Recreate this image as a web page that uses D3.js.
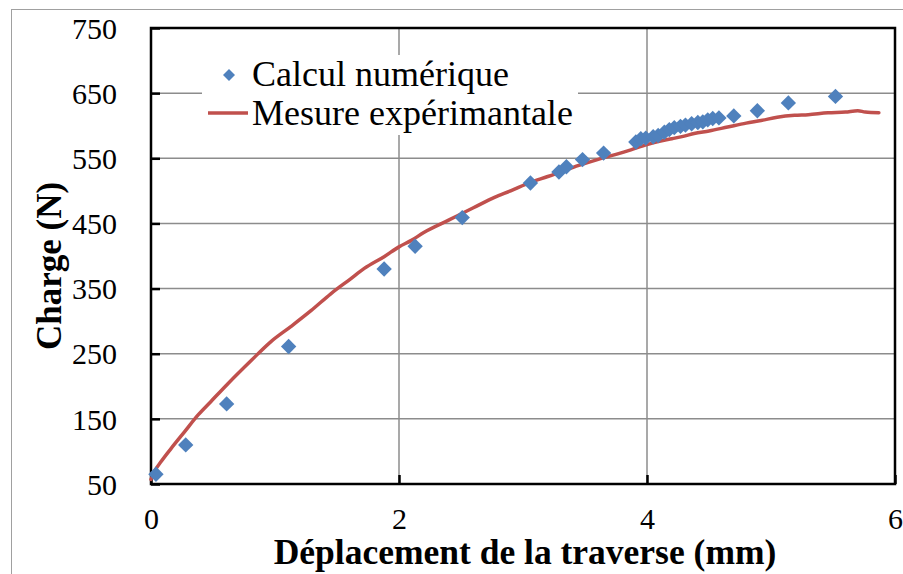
<!DOCTYPE html>
<html>
<head>
<meta charset="utf-8">
<script src="https://cdn.jsdelivr.net/npm/d3@7"></script>
<style>
  html, body { margin: 0; padding: 0; background: #fff; }
  svg { display: block; }
  text { font-family: "Liberation Serif", "Times New Roman", serif; fill: #000; }
</style>
</head>
<body>
<svg id="chart" width="903" height="574"></svg>
<script>
// Numerical results (displacement in mm, load in N)
const calcX = [0.04, 0.28, 0.61, 1.11, 1.88, 2.13, 2.51, 3.06, 3.29, 3.35, 3.48, 3.65,
  3.91, 3.95, 3.99, 4.05, 4.09, 4.14, 4.18, 4.22, 4.27, 4.31, 4.36, 4.41, 4.45, 4.49,
  4.53, 4.58, 4.70, 4.89, 5.14, 5.52];
const calcY = [65, 110, 173, 261, 380, 415, 459, 512, 529, 537, 548, 558,
  575, 580, 581, 583, 585, 590, 594, 597, 599, 601, 603, 605, 606, 609,
  611, 612, 615, 623, 635, 645];

// Experimental measurement
const mesX = [0.00, 0.03, 0.08, 0.16, 0.27, 0.38, 0.48, 0.62, 0.81, 0.97, 1.13, 1.29,
  1.45, 1.61, 1.72, 1.88, 2.00, 2.10, 2.20, 2.40, 2.60, 2.77, 2.90, 3.06, 3.20, 3.33,
  3.45, 3.60, 3.75, 3.87, 4.00, 4.10, 4.20, 4.30, 4.38, 4.50, 4.65, 4.80, 4.92, 5.05,
  5.19, 5.30, 5.46, 5.60, 5.70, 5.76, 5.87];
const mesY = [57, 70, 84, 104, 130, 156, 176, 204, 240, 269, 292, 316,
  342, 365, 381, 399, 414, 424, 436, 455, 474, 490, 500, 513, 522, 531,
  539, 548, 556, 563, 571, 576, 580, 584, 588, 592, 598, 604, 608, 613,
  616, 617, 620, 621, 623, 621, 620];

const xTicks = [0, 2, 4, 6];
const yTicks = [50, 150, 250, 350, 450, 550, 650, 750];

const seriesNames = ["Calcul numérique", "Mesure expérimantale"];
const xTitle = "Déplacement de la traverse (mm)";
const yTitle = "Charge (N)";

const blue = "#4F81BD";
const red = "#C0504D";
const serif = '"Liberation Serif", "Times New Roman", serif';

const svg = d3.select("#chart");

// chart area frame
svg.append("rect")
  .attr("x", 11.5).attr("y", 9.5)
  .attr("width", 903).attr("height", 574)
  .attr("fill", "#fff").attr("stroke", "#a0a0a0").attr("stroke-width", 1);

const plot = { left: 151, right: 895, top: 28, bottom: 484 };

const x = d3.scaleLinear().domain([0, 6]).range([plot.left, plot.right]);
const y = d3.scaleLinear().domain([50, 750]).range([plot.bottom, plot.top]);

// grid lines
svg.append("g")
  .selectAll("line")
  .data(yTicks.slice(1, -1))
  .join("line")
  .attr("x1", plot.left).attr("x2", plot.right)
  .attr("y1", d => y(d)).attr("y2", d => y(d))
  .attr("stroke", "#8c8c8c").attr("stroke-width", 1.5);

svg.append("g")
  .selectAll("line")
  .data(xTicks.slice(1, -1))
  .join("line")
  .attr("y1", plot.top).attr("y2", plot.bottom)
  .attr("x1", d => x(d)).attr("x2", d => x(d))
  .attr("stroke", "#8c8c8c").attr("stroke-width", 1.5);

// axes with inward ticks
const yAxis = d3.axisLeft(y).tickValues(yTicks).tickSize(-9).tickPadding(34).tickFormat(d3.format("d"));
const xAxis = d3.axisBottom(x).tickValues(xTicks).tickSize(-9).tickPadding(24).tickFormat(d3.format("d"));

const gy = svg.append("g").attr("transform", `translate(${plot.left},0)`).call(yAxis);
const gx = svg.append("g").attr("transform", `translate(0,${plot.bottom})`).call(xAxis);

[gy, gx].forEach(g => {
  g.attr("font-family", serif).attr("font-size", 30);
  g.select(".domain").remove();
  g.selectAll(".tick line").attr("stroke", "#000").attr("stroke-width", 2.5);
  g.selectAll(".tick text")
    .style("font-family", serif)
    .style("font-size", "30px").attr("fill", "#000");
});
gy.selectAll(".tick text").attr("dy", "0.34em");

// plot frame
svg.append("rect")
  .attr("x", plot.left).attr("y", plot.top)
  .attr("width", plot.right - plot.left).attr("height", plot.bottom - plot.top)
  .attr("fill", "none").attr("stroke", "#000").attr("stroke-width", 2.5);

// experimental curve
const line = d3.line().x(d => x(d[0])).y(d => y(d[1])).curve(d3.curveMonotoneX);
svg.append("path")
  .datum(d3.zip(mesX, mesY))
  .attr("d", line)
  .attr("fill", "none").attr("stroke", red).attr("stroke-width", 3.5)
  .attr("stroke-linejoin", "round").attr("stroke-linecap", "round");

// numerical points
const diamond = d3.symbol().type(d3.symbolSquare).size(118);
svg.append("g")
  .selectAll("path")
  .data(d3.zip(calcX, calcY))
  .join("path")
  .attr("d", diamond)
  .attr("transform", d => `translate(${x(d[0])},${y(d[1])}) rotate(45)`)
  .attr("fill", blue);

// legend
const lg = svg.append("g");
lg.append("rect").attr("x", 202).attr("y", 55).attr("width", 376).attr("height", 80).attr("fill", "#fff");
lg.append("path").attr("d", d3.symbol().type(d3.symbolSquare).size(72))
  .attr("transform", "translate(229,75) rotate(45)").attr("fill", blue);
lg.append("line").attr("x1", 208).attr("x2", 248).attr("y1", 113).attr("y2", 113)
  .attr("stroke", red).attr("stroke-width", 3.5);
lg.append("text").attr("x", 252).attr("y", 86).style("font-family", serif).style("font-size", "36px").text(seriesNames[0]);
lg.append("text").attr("x", 252).attr("y", 125).style("font-family", serif).style("font-size", "36px").text(seriesNames[1]);

// axis titles
svg.append("text")
  .attr("x", (plot.left + plot.right) / 2 + 2).attr("y", 564)
  .attr("text-anchor", "middle")
  .style("font-family", serif)
  .style("font-size", "35.5px").style("font-weight", "bold")
  .text(xTitle);

svg.append("text")
  .attr("transform", "translate(61,266) rotate(-90)")
  .attr("text-anchor", "middle")
  .style("font-family", serif)
  .style("font-size", "35px").style("font-weight", "bold")
  .text(yTitle);
</script>
</body>
</html>
